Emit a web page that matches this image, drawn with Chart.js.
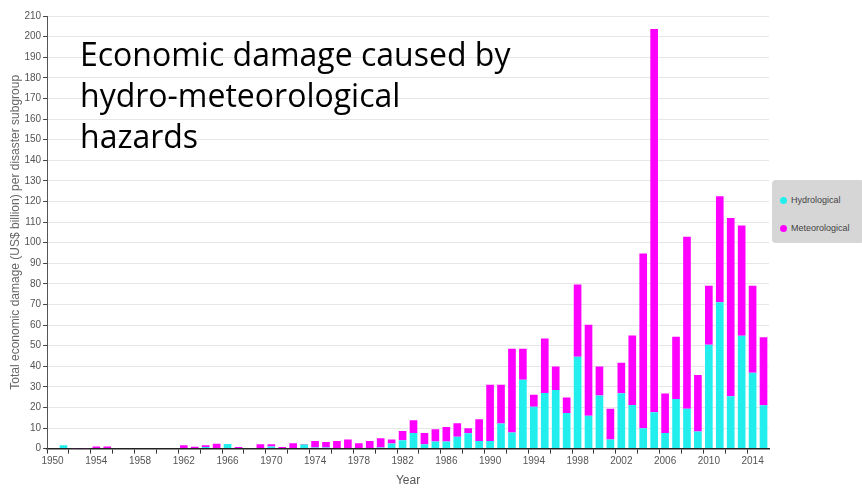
<!DOCTYPE html>
<html>
<head>
<meta charset="utf-8">
<script src="https://cdn.jsdelivr.net/npm/chart.js@4"></script>
<style>
  body { margin: 0; background: #fff; }
  #wrap { position: relative; width: 862px; height: 489px; }
  #title {
    position: absolute; left: 80px; top: 33px;
    font-family: "Open Sans", "Noto Sans", sans-serif; font-size: 32px; line-height: 41px;
    color: #000; white-space: pre;
  }
  #legend {
    position: absolute; left: 772px; top: 180px; width: 92px; height: 63px;
    background: #d6d6d6; border-radius: 4px;
    font-family: "Liberation Sans Narrow", "Liberation Sans", Arial, sans-serif; font-size: 9px; color: #444;
  }
  #legend div { position: absolute; left: 8px; }
  #legend span.dot { display: inline-block; width: 7px; height: 7px; border-radius: 50%; margin-right: 4px; vertical-align: -1px; }
</style>
</head>
<body>
<div id="wrap">
  <canvas id="damageChart" width="862" height="489"></canvas>
  <div id="title">Economic damage caused by
hydro-meteorological
hazards</div>
  <div id="legend"></div>
</div>
<script>
// years on the x axis
const years = [];
for (let y = 1950; y <= 2015; y++) years.push(String(y));

// US$ billion
const hydrological = [
  0, 1.6, 0, 0, 0, 0, 0, 0, 0, 0,
  0, 0, 0, 0, 0.8, 0, 2.2, 0, 0, 0,
  1.0, 0, 0, 2.0, 0.5, 0.5, 0.3, 0.3, 0.3, 0,
  0.5, 2.5, 4.0, 7.6, 2.1, 3.4, 3.4, 5.8, 7.5, 3.7,
  3.7, 12.2, 7.8, 33.4, 20.3, 27, 28.5, 17.3, 44.6, 15.9,
  25.8, 4.4, 26.9, 21.2, 9.9, 17.7, 7.6, 24.1, 19.4, 8.3,
  50.4, 71, 25.4, 54.8, 36.8, 21.1
];
const meteorological = [
  0, 0, 0.2, 0.2, 1.0, 1.0, 0, 0, 0.3, 0.3,
  0.3, 0.3, 1.6, 0.9, 0.8, 2.3, 0, 0.8, 0, 2.1,
  1.1, 0.8, 2.6, 0.2, 3.2, 2.7, 3.4, 4.1, 2.3, 3.7,
  4.5, 1.9, 4.6, 6.2, 5.5, 6.0, 7.1, 6.5, 2.4, 10.6,
  27.3, 18.8, 40.7, 15.1, 5.8, 26.5, 11.3, 7.5, 35.1, 44.2,
  14.0, 14.9, 14.8, 33.7, 84.8, 186, 19.1, 30.2, 83.4, 27.4,
  28.7, 51.5, 86.6, 53.5, 42.3, 33.0
];

const seriesNames = ['Hydrological', 'Meteorological'];
const seriesColors = ['#22eeee', '#ff00ff'];

// legend drawn as plain html, the grey box on the right
const legendBox = document.getElementById('legend');
seriesNames.forEach((name, i) => {
  const row = document.createElement('div');
  row.style.top = (15 + i * 28) + 'px';
  row.innerHTML = '<span class="dot" style="background:' + seriesColors[i] + '"></span>' + name;
  legendBox.appendChild(row);
});

const tickFont = { family: '"Liberation Sans Narrow", "Liberation Sans", Arial, sans-serif', size: 10 };

const ctx = document.getElementById('damageChart').getContext('2d');
const damageChart = new Chart(ctx, {
  type: 'bar',
  data: {
    labels: years,
    datasets: [
      { label: seriesNames[0], data: hydrological, backgroundColor: seriesColors[0] },
      { label: seriesNames[1], data: meteorological, backgroundColor: seriesColors[1] }
    ]
  },
  options: {
    responsive: false,
    animation: false,
    layout: { padding: { left: 8, right: 93, top: 16, bottom: 1 } },
    datasets: { bar: { categoryPercentage: 1, barPercentage: 0.7 } },
    plugins: {
      legend: { display: false },
      tooltip: { enabled: false }
    },
    scales: {
      x: {
        stacked: true,
        grid: {
          drawOnChartArea: false,
          tickLength: 5,
          tickColor: c => (c.index % 2 === 0 ? '#333' : 'rgba(0,0,0,0)')
        },
        border: { color: '#222', width: 1.5 },
        ticks: {
          autoSkip: false,
          maxRotation: 0,
          color: '#555',
          font: tickFont,
          padding: 2,
          callback: function(val, i) { return i % 4 === 0 ? this.getLabelForValue(val) : ''; }
        },
        title: { display: true, text: 'Year', color: '#555', font: { family: 'Liberation Sans, Arial, sans-serif', size: 12 }, padding: { top: 4, bottom: 0 } }
      },
      y: {
        stacked: true,
        min: 0,
        max: 210,
        grid: { color: '#e6e6e6', tickLength: 4, tickColor: '#444' },
        border: { color: '#555' },
        ticks: { stepSize: 10, color: '#555', font: tickFont, padding: 2 },
        title: {
          display: true,
          text: 'Total economic damage (US$ billion) per disaster subgroup',
          color: '#666',
          font: { family: 'Liberation Sans, Arial, sans-serif', size: 12 },
          padding: 0
        }
      }
    }
  }
});
</script>
</body>
</html>
